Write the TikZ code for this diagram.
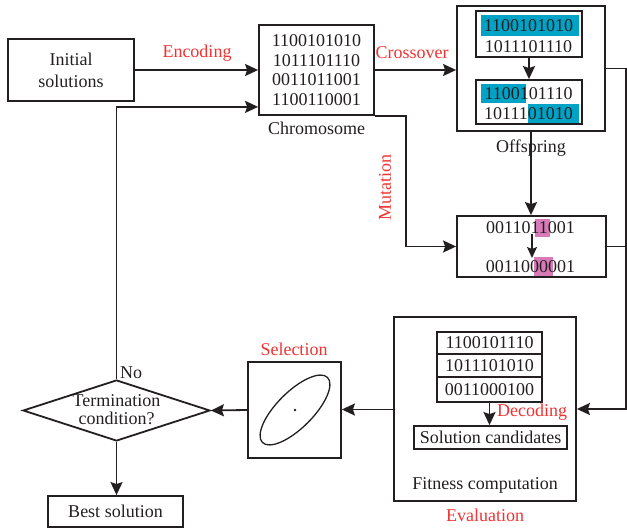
\documentclass[tikz,border=0pt]{standalone}
\usepackage{fontspec}
\setmainfont{Liberation Serif}
\usetikzlibrary{arrows.meta,shapes.geometric,calc}
\definecolor{hlcyan}{RGB}{0,163,198}
\definecolor{hlpink}{RGB}{216,122,184}
\definecolor{lblred}{RGB}{240,50,50}
\definecolor{ink}{RGB}{35,31,32}
\newcommand\digw{9}
\begin{document}
\begin{tikzpicture}[x=1pt,y=-1pt,
  every node/.style={font=\fontsize{18}{21}\selectfont, text=ink, inner sep=0pt},
  box/.style={draw=ink, line width=1.8pt, rectangle, align=center},
  lbl/.style={text=lblred},
  conn/.style={draw=ink, line width=1.8pt},
  arr/.style={conn, -{Stealth[length=13pt,width=12pt,inset=2pt]}},
  smallarr/.style={draw=ink, line width=1.3pt, -{Stealth[length=11pt,width=10pt,inset=2pt]}}]
\useasboundingbox (0,0) rectangle (627,529);

% text nodes that carry highlights
\node (t11) at (528.5,26) {\phantom{1100101010}};
\node (t21) at (528.5,94) {\phantom{1100101110}};
\node (t22) at (528.5,113.5) {\phantom{1011101010}};
\node (m1) at (530.5,228) {\phantom{0011011001}};
\node (m2) at (530.5,267) {\phantom{0011000001}};

% highlights
\fill[hlcyan] ($(t11.west)+(-3,-11)$) rectangle ($(t11.west)+(10*\digw+5,10)$);
\fill[hlcyan] ($(t21.west)+(-3,-10)$) rectangle ($(t21.west)+(5*\digw-3,9)$);
\fill[hlcyan] ($(t22.west)+(5*\digw-1,-9.5)$) rectangle ($(t22.west)+(10*\digw+5,9.5)$);
\fill[hlpink] ($(m1.west)+(5.5*\digw,-9)$) rectangle ($(m1.west)+(7.1*\digw,9)$);
\fill[hlpink] ($(m2.west)+(5.4*\digw,-10)$) rectangle ($(m2.west)+(7.5*\digw,10)$);

\node at (t11) {1100101010};
\node at (t21) {1100101110};
\node at (t22) {1011101010};
\node at (m1) {0011011001};
\node at (m2) {0011000001};
\node (t12) at (528.5,46.5) {1011101110};

% boxes
\node[box, minimum width=126pt, minimum height=62pt] (init) at (71,70) {Initial\\[1pt]solutions};
\node[box, minimum width=115pt, minimum height=90pt] (chrom) at (316.5,70)
  {1100101010\\[-1.5pt]1011101110\\[-1.5pt]0011011001\\[-1.5pt]1100110001};
\node (chromlbl) at (316.5,128) {Chromosome};

\node[box, minimum width=148pt, minimum height=125pt] (offs) at (531,68.5) {};
\node[box, minimum width=106pt, minimum height=46pt] (ob1) at (529,34) {};
\node[box, minimum width=106pt, minimum height=44pt] (ob2) at (529,102) {};
\node (offslbl) at (531,148) {Offspring};

\node[box, minimum width=149pt, minimum height=61pt] (mut) at (531.5,246.5) {};

\node[box, minimum width=182pt, minimum height=184pt] (eval) at (485,409) {};
\node[box, minimum width=105pt, minimum height=22pt] (r1) at (489.5,343) {1100101110};
\node[box, minimum width=105pt, minimum height=23pt] (r2) at (489.5,365.5) {1011101010};
\node[box, minimum width=105pt, minimum height=25pt] (r3) at (489.5,389.5) {0011000100};
\node[box, minimum width=153pt, minimum height=23pt] (sol) at (490.5,437.5) {Solution candidates};
\node (fit) at (485,485) {Fitness computation};
\node[lbl] (evallbl) at (485,515) {Evaluation};
\node[lbl, anchor=west] (declbl) at (497,412) {Decoding};

\node[box, minimum width=93pt, minimum height=96pt] (sel) at (294.5,410) {};
\draw[ink, line width=1.3pt, rotate around={45:(295,410)}] (295,410) ellipse [x radius=46pt, y radius=18pt];
\fill[ink] (295,410) circle (1.3pt);
\node[lbl] (sellbl) at (294,349) {Selection};

\node[draw=ink, line width=1.8pt, diamond, aspect=3.07, minimum width=187pt, minimum height=61pt] (diam) at (116.5,410.5) {};
\node[align=center] (diamtxt) at (116.5,410) {Termination\\[-3pt]condition?};
\node[anchor=west] (nolbl) at (120,373) {No};

\node[box, minimum width=135pt, minimum height=31pt] (best) at (115.5,511.5) {Best solution};

% labels
\node[lbl] (enclbl) at (197,53) {Encoding};
\node[lbl] (croslbl) at (412,53) {Crossover};
\node[lbl, rotate=90] (mutlbl) at (385,188) {Mutation};

% connectors
\coordinate (mc) at (406,246.5);
\coordinate (rc) at (626,409);
\draw[arr] (init.east) -- (chrom.west |- init.east);
\draw[arr] (diam.north) |- ([yshift=9pt]chrom.south west);
\draw[arr] (chrom.east) -- (chrom.east -| offs.west);
\draw[arr] (chrom.south east) -| (mc) -- (mut.west);
\draw[arr] (ob1.south) -- (ob2.north);
\draw[arr] (offs.south -| 531,0) -- (mut.north -| 531,0);
\draw[smallarr] (532,234) -- (532,258);
\draw[conn] (mut.east) -- (mut.east -| rc);
\draw[arr] (offs.east) -| (rc) -- (eval.east |- rc);
\draw[arr] (eval.west |- 0,409.5) -- (sel.east |- 0,409.5);
\draw[arr] (sel.west |- 0,410) -- (diam.east);
\draw[arr] (diam.south) -- (best.north -| diam.south);
\draw[arr] (r3.south) -- (sol.north -| r3.south);
\end{tikzpicture}
\end{document}
